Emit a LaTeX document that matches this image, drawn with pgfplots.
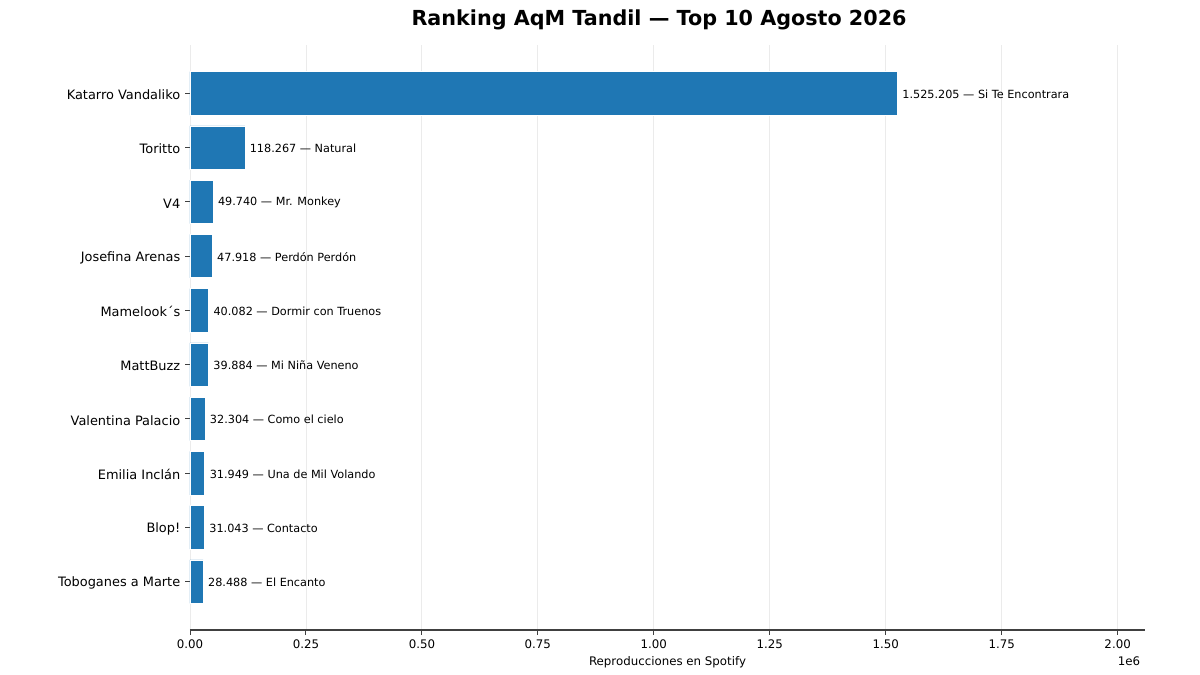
\documentclass[border=0pt]{standalone}
\usepackage{pgfplots}
\pgfplotsset{compat=1.18}
\usepackage{pgfplotstable}
\usepackage{fontspec}
\setmainfont{DejaVu Sans}
\definecolor{barblue}{HTML}{1F77B4}

\pgfplotstableread[col sep=semicolon,row sep=\\]{
y;x;lab\\
0;1525205;1.525.205 — Si Te Encontrara\\
1;118267;118.267 — Natural\\
2;49740;49.740 — Mr. Monkey\\
3;47918;47.918 — Perdón Perdón\\
4;40082;40.082 — Dormir con Truenos\\
5;39884;39.884 — Mi Niña Veneno\\
6;32304;32.304 — Como el cielo\\
7;31949;31.949 — Una de Mil Volando\\
8;31043;31.043 — Contacto\\
9;28488;28.488 — El Encanto\\
}\datatable

\begin{document}
\begin{tikzpicture}
\begin{axis}[
  at={(0,0)}, anchor=south west,
  scale only axis, width=687.6pt, height=421.2pt,
  xmin=0, xmax=2059027, ymin=-0.89, ymax=9.89, y dir=reverse,
  xbar, bar width=0.8, bar shift=0pt,
  axis x line=bottom, axis y line=left,
  axis line style={-, line width=0.8pt, color=black!75},
  y axis line style={draw=none},
  tick align=outside, major tick length=3.5pt,
  tick style={line width=0.7pt, color=black!75},
  xtick={0,250000,500000,750000,1000000,1250000,1500000,1750000,2000000},
  xticklabels={0.00,0.25,0.50,0.75,1.00,1.25,1.50,1.75,2.00},
  scaled x ticks=false,
  ytick={0,...,9},
  yticklabels={Katarro Vandaliko,Toritto,V4,Josefina Arenas,Mamelook´s,MattBuzz,Valentina Palacio,Emilia Inclán,Blop!,Toboganes a Marte},
  x tick label style={font=\fontsize{8.5}{10}\selectfont},
  y tick label style={font=\fontsize{9.3}{11}\selectfont, yshift=-1.1pt},
  xmajorgrids, grid style={black!8, line width=0.6pt},
  every axis title shift=0pt,
  title={Ranking AqM Tandil — Top 10 Agosto 2026},
  title style={font=\bfseries\fontsize{14.9}{17}\selectfont, at={(axis description cs:0.5,1)}, anchor=base, yshift=13.7pt, xshift=-6.1pt},
  xlabel={Reproducciones en Spotify},
  xlabel style={font=\fontsize{8.5}{10}\selectfont, at={(axis description cs:0.5,0)}, anchor=base, yshift=-25.2pt},
  clip=false,
  nodes near coords, point meta=explicit symbolic,
  nodes near coords style={anchor=west, xshift=0pt, yshift=-0.6pt, font=\fontsize{8.1}{10}\selectfont, text=black},
]
\addplot[fill=barblue, draw=white, line width=0.5pt] table[x=x, y=y, meta=lab] \datatable;
\node[anchor=base east, font=\fontsize{8.5}{10}\selectfont] at (axis description cs:1,0) [yshift=-25.2pt] {1e6};
\end{axis}
\pgfresetboundingbox
\path (-136.8pt,-32.4pt) rectangle (727.2pt,453.6pt);
\end{tikzpicture}
\end{document}
